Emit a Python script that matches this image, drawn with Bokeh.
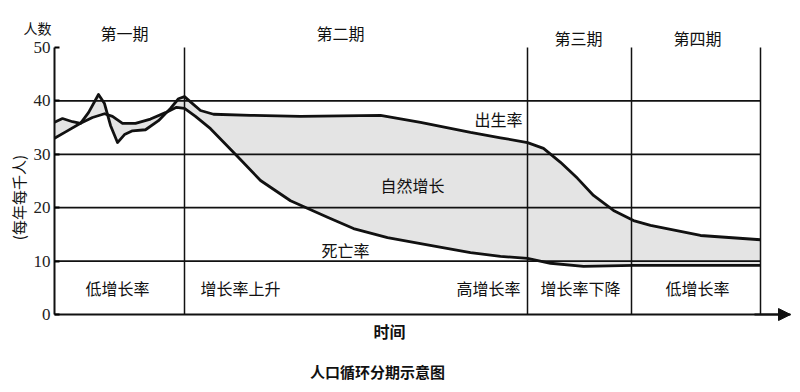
from bokeh.plotting import figure
from bokeh.models import Range1d, Label, Arrow, NormalHead, FixedTicker, LinearAxis
from bokeh.embed import file_html
from bokeh.resources import INLINE
import math

# ---- data (time in arbitrary units, rates per 1000 per year) ----
birth_t = [0, 8, 18, 26, 34, 44, 50, 56, 63, 70, 78, 91, 104, 116, 124, 130, 138, 146, 159,
           196, 246, 326, 366, 416, 446, 473, 489, 506, 523, 539, 559, 579, 596, 646, 706]
birth_v = [36.0, 36.7, 36.1, 35.8, 37.8, 41.2, 39.5, 35.4, 32.2, 33.7, 34.4, 34.6, 36.3, 38.6, 40.4, 40.8, 39.5, 38.2, 37.5,
           37.3, 37.1, 37.3, 36.0, 34.1, 33.1, 32.2, 31.1, 28.5, 25.5, 22.3, 19.5, 17.6, 16.7, 14.8, 14.0]

death_t = [0, 12, 26, 38, 50, 58, 68, 81, 96, 111, 122, 130, 141, 156, 184, 206, 236, 273, 299,
           333, 366, 416, 446, 473, 496, 529, 579, 706]
death_v = [33.0, 34.3, 35.8, 36.9, 37.6, 37.1, 35.8, 35.8, 36.6, 37.8, 38.8, 38.6, 37.1, 34.8, 29.4, 25.1, 21.3, 18.2, 16.1,
           14.4, 13.3, 11.6, 10.9, 10.5, 9.6, 9.0, 9.2, 9.2]

period_bounds = [130, 473, 577, 706]
grid_values = [10, 20, 30, 40]
y_ticks = [0, 10, 20, 30, 40, 50]
x_end = 706
axis_end = 736

period_names = ["第一期", "第二期", "第三期", "第四期"]
period_name_x = [70, 286, 524, 643]
period_name_y = [52.8, 52.8, 51.7, 51.7]

stage_names = ["低增长率", "增长率上升", "高增长率", "增长率下降", "低增长率"]
stage_x = [63, 186, 434, 526, 643]

CJK = "Noto Sans CJK SC"

p = figure(width=792, height=384, output_backend="svg", toolbar_location=None,
           x_range=Range1d(-54, 738), y_range=Range1d(-13.1, 58.8),
           x_axis_location=None, y_axis_location=None,
           min_border=0, min_border_left=0, min_border_right=0, min_border_top=0, min_border_bottom=0)
p.outline_line_color = None
p.xgrid.visible = False
p.ygrid.visible = False
p.background_fill_color = "white"
p.border_fill_color = "white"

# y axis (drawn inside the frame at x = 0)
yax = LinearAxis(fixed_location=0, bounds=(0, 50), ticker=FixedTicker(ticks=y_ticks))
yax.major_label_text_font = "Liberation Serif"
yax.major_label_text_font_size = "17px"
yax.major_label_text_color = "#222222"
yax.axis_line_width = 2
yax.axis_line_color = "#111111"
yax.major_tick_in = 5
yax.major_tick_out = 0
yax.major_tick_line_width = 2
yax.minor_tick_line_color = None
yax.major_label_standoff = 4
p.add_layout(yax, "left")

# x axis (time) drawn at y = 0
xax = LinearAxis(fixed_location=0, bounds=(0, axis_end), ticker=FixedTicker(ticks=[]))
xax.major_label_text_font_size = "0px"
xax.axis_line_width = 2
xax.axis_line_color = "#111111"
xax.major_tick_line_color = None
xax.minor_tick_line_color = None
p.add_layout(xax, "below")

# shaded natural increase area (between the two curves)
poly_x = birth_t + death_t[::-1]
poly_y = birth_v + death_v[::-1]
p.patch(poly_x, poly_y, fill_color="#e4e4e4", line_color=None)

# grid lines and period boundaries
p.segment(x0=[0] * len(grid_values), y0=grid_values, x1=[x_end] * len(grid_values), y1=grid_values,
          line_color="#111111", line_width=1.8)
p.segment(x0=period_bounds, y0=[0] * len(period_bounds), x1=period_bounds, y1=[50] * len(period_bounds),
          line_color="#111111", line_width=1.5)

# curves
p.line(birth_t, birth_v, line_color="#111111", line_width=2.8, line_join="round")
p.line(death_t, death_v, line_color="#111111", line_width=2.8, line_join="round")

# arrow at end of time axis
p.add_layout(Arrow(end=NormalHead(size=12, fill_color="#111111", line_color="#111111"),
                   x_start=700, y_start=0, x_end=axis_end, y_end=0, line_width=2, line_color="#111111"))

def lab(x, y, t, size="16px", bold=False, angle=0.0):
    p.add_layout(Label(x=x, y=y, text=t, text_font=CJK, text_font_size=size,
                       text_align="center", text_baseline="middle", angle=angle,
                       text_color="#111111", text_font_style="bold" if bold else "normal"))

for n, xx, yy in zip(period_names, period_name_x, period_name_y):
    lab(xx, yy, n, "16px")
for n, xx in zip(stage_names, stage_x):
    lab(xx, 4.9, n, "16px")

lab(-17, 53.7, "人数", "14px")
lab(444, 36.7, "出生率", "16px")
lab(358, 24.2, "自然增长", "16px")
lab(291, 12.0, "死亡率", "16px")
lab(335, -3.0, "时间", "16px", bold=True)
lab(323, -10.6, "人口循环分期示意图", "15px", bold=True)
lab(-36, 21.9, "(每年每千人)", "15px", angle=math.pi / 2)

open("out.html", "w").write(file_html(p, INLINE))
